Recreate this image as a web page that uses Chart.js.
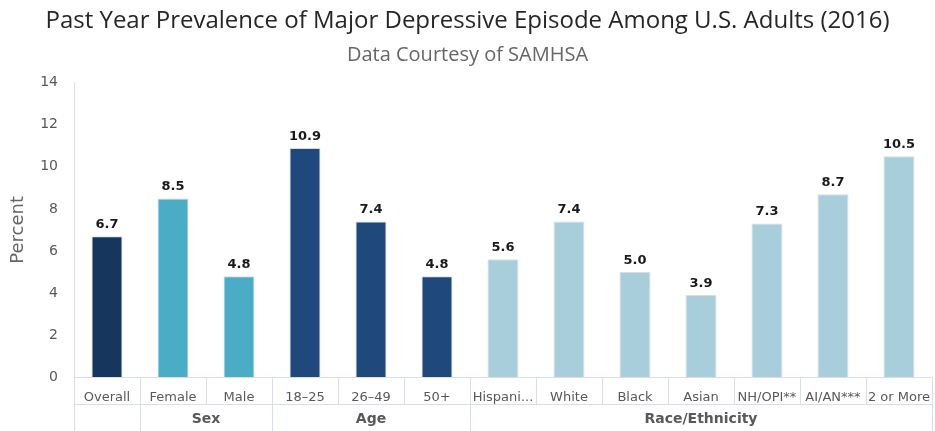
<!DOCTYPE html>
<html>
<head>
<meta charset="utf-8">
<script src="https://cdn.jsdelivr.net/npm/chart.js@4"></script>
<style>
  html, body { margin: 0; padding: 0; background: #fff; }
  #wrap { width: 935px; height: 431px; }
</style>
</head>
<body>
<div id="wrap"><canvas id="chart" width="935" height="431"></canvas></div>
<script>
const categories = ['Overall', 'Female', 'Male', '18\u201325', '26\u201349', '50+',
  'Hispani...', 'White', 'Black', 'Asian', 'NH/OPI**', 'AI/AN***', '2 or More'];
const values = [6.7, 8.5, 4.8, 10.9, 7.4, 4.8, 5.6, 7.4, 5.0, 3.9, 7.3, 8.7, 10.5];
const groupNames = ['', 'Sex', 'Age', 'Race/Ethnicity'];
const groupSizes = [1, 2, 3, 7];
const groupColors = ['#17365d', '#4bacc6', '#1f497d', '#a8cedb'];
const yTicks = [0, 2, 4, 6, 8, 10, 12, 14];

const barColors = [];
groupSizes.forEach((n, i) => { for (let k = 0; k < n; k++) barColors.push(groupColors[i]); });

const lineColor = '#d6def0';
const textGray = '#595959';

const tablePlugin = {
  id: 'tablePlugin',
  afterDraw(chart) {
    const ctx = chart.ctx;
    const x = chart.scales.x;
    const area = chart.chartArea;
    const step = x.getPixelForValue(1) - x.getPixelForValue(0);
    const row1 = area.bottom + 27;
    const row2 = chart.height;
    const edge = i => x.getPixelForValue(i) - step / 2;

    ctx.save();
    ctx.strokeStyle = lineColor;
    ctx.lineWidth = 1;
    ctx.beginPath();
    ctx.moveTo(area.left, row1 + 0.5);
    ctx.lineTo(area.right, row1 + 0.5);
    for (let i = 0; i <= categories.length; i++) {
      const px = Math.round(edge(i)) + 0.5;
      ctx.moveTo(px, area.bottom);
      ctx.lineTo(px, row1);
    }
    let start = 0;
    for (let g = 0; g <= groupSizes.length; g++) {
      const px = Math.round(edge(start)) + 0.5;
      ctx.moveTo(px, row1);
      ctx.lineTo(px, row2);
      if (g < groupSizes.length) start += groupSizes[g];
    }
    ctx.stroke();

    ctx.fillStyle = textGray;
    ctx.font = 'bold 14px "DejaVu Sans"';
    ctx.textAlign = 'center';
    ctx.textBaseline = 'middle';
    start = 0;
    groupSizes.forEach((n, g) => {
      const cx = (edge(start) + edge(start + n)) / 2;
      ctx.fillText(groupNames[g], cx, (row1 + row2) / 2 + 2);
      start += n;
    });

    // value labels
    const meta = chart.getDatasetMeta(0);
    ctx.fillStyle = '#1a1a1a';
    ctx.font = 'bold 13px "DejaVu Sans"';
    ctx.textBaseline = 'bottom';
    meta.data.forEach((bar, i) => {
      ctx.fillText(values[i].toFixed(1), bar.x, bar.y - 5);
    });
    ctx.restore();
  }
};

new Chart(document.getElementById('chart'), {
  type: 'bar',
  data: {
    labels: categories,
    datasets: [{
      data: values,
      backgroundColor: barColors,
      borderColor: '#dcdcdc',
      borderWidth: 1,
      barPercentage: 0.47,
      categoryPercentage: 1
    }]
  },
  options: {
    responsive: false,
    animation: false,
    layout: { padding: { left: 0, right: 0, top: 0, bottom: 0 } },
    plugins: {
      legend: { display: false },
      tooltip: { enabled: false },
      title: {
        display: true,
        text: 'Past Year Prevalence of Major Depressive Episode Among U.S. Adults (2016)',
        color: '#262626',
        font: { family: 'Open Sans', size: 24, weight: 'normal' },
        padding: { top: 7, bottom: 7 }
      },
      subtitle: {
        display: true,
        text: 'Data Courtesy of SAMHSA',
        color: '#666666',
        font: { family: 'Open Sans', size: 20, weight: 'normal' },
        padding: { top: 0, bottom: 16 }
      }
    },
    scales: {
      x: {
        grid: { display: false },
        border: { display: true, color: lineColor },
        ticks: {
          color: textGray,
          font: { family: 'DejaVu Sans', size: 13 },
          padding: 5,
          maxRotation: 0,
          autoSkip: false
        },
        afterFit(scale) { scale.height = 54; }
      },
      y: {
        min: 0,
        max: 14,
        afterBuildTicks(scale) { scale.ticks = yTicks.map(v => ({ value: v })); },
        grid: { display: false, drawTicks: false },
        border: { display: true, color: lineColor },
        ticks: {
          color: textGray,
          font: { family: 'DejaVu Sans', size: 14 },
          padding: 16
        },
        title: {
          display: true,
          text: 'Percent',
          color: '#666666',
          font: { family: 'DejaVu Sans', size: 18 },
          padding: { top: 8, bottom: 0 }
        },
        afterFit(scale) { scale.width = 74; }
      }
    }
  },
  plugins: [tablePlugin]
});
</script>
</body>
</html>
